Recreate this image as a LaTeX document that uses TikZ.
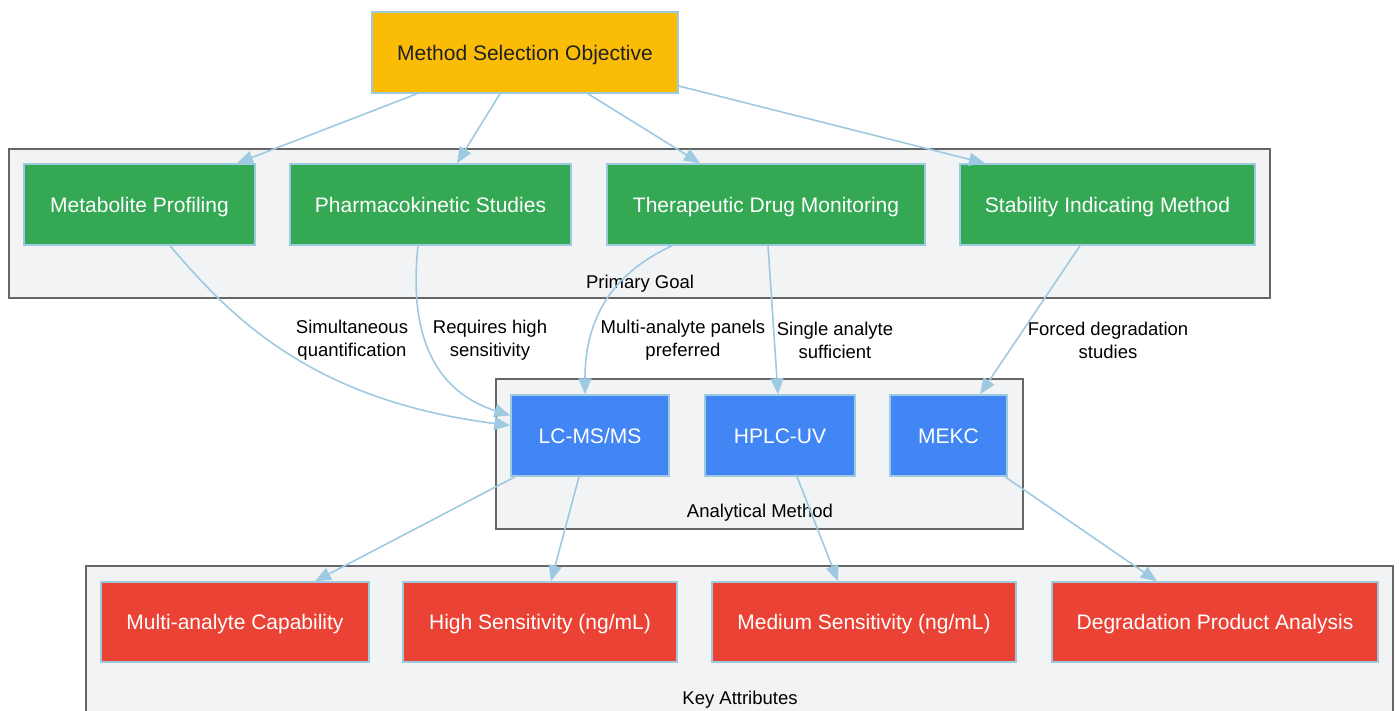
\documentclass[tikz,border=0pt]{standalone}
\usepackage{fontspec}
\setmainfont{Liberation Sans}
\usetikzlibrary{arrows.meta,calc}
\definecolor{edgeblue}{RGB}{158,202,225}
\definecolor{clfill}{RGB}{241,243,244}
\definecolor{cldraw}{RGB}{102,102,102}
\definecolor{gold}{RGB}{251,188,5}
\definecolor{ggreen}{RGB}{52,168,83}
\definecolor{gblue}{RGB}{66,133,244}
\definecolor{gred}{RGB}{234,67,53}
\definecolor{dtext}{RGB}{32,33,36}
\tikzset{
  box/.style={draw=edgeblue, line width=1.5pt, inner sep=0pt, minimum height=81pt,
    text height=18pt, text depth=3pt,
    font=\fontsize{21}{25}\selectfont, text=white},
  objbox/.style={box, fill=gold, text=dtext},
  goalbox/.style={box, fill=ggreen},
  methbox/.style={box, fill=gblue},
  attrbox/.style={box, fill=gred, minimum height=80pt},
  cluster/.style={draw=cldraw, fill=clfill, line width=1.5pt},
  cllabel/.style={font=\fontsize{18.5}{22}\selectfont, text=black, inner sep=0pt},
  elabel/.style={font=\fontsize{18.5}{23}\selectfont, text=black, align=center, inner sep=0pt},
  edge/.style={draw=edgeblue, line width=1.6pt, -{Triangle[length=16pt,width=13pt]}}
}
\begin{document}
\begin{tikzpicture}[x=1pt,y=-1pt]
\useasboundingbox (0,0) rectangle (1399,710);
\clip (0,0) rectangle (1399,710);
% clusters
\draw[cluster] (9,149) rectangle (1270,298);
\node[cllabel] (lgoal) at (640,283.5) {Primary Goal};
\draw[cluster] (496,379) rectangle (1023,529);
\node[cllabel] (lmeth) at (760,513) {Analytical Method};
\draw[cluster] (86,566) rectangle (1393,730);
\node[cllabel] (lattr) at (740,699.5) {Key Attributes};
% nodes
\node[objbox, minimum width=306pt] (obj) at (525,52.5) {Method Selection Objective};
\node[goalbox, minimum width=231pt] (met) at (139.5,204.5) {Metabolite Profiling};
\node[goalbox, minimum width=281pt] (pk) at (430.5,204.5) {Pharmacokinetic Studies};
\node[goalbox, minimum width=318pt] (tdm) at (766,204.5) {Therapeutic Drug Monitoring};
\node[goalbox, minimum width=295pt] (sim) at (1107.5,204.5) {Stability Indicating Method};
\node[methbox, minimum width=158pt] (lcms) at (590,435.5) {LC-MS/MS};
\node[methbox, minimum width=150pt] (hplc) at (780,435.5) {HPLC-UV};
\node[methbox, minimum width=117pt] (mekc) at (948.5,435.5) {MEKC};
\node[attrbox, minimum width=268pt] (multi) at (235,622) {Multi-analyte Capability};
\node[attrbox, minimum width=274pt] (high) at (540,622) {High Sensitivity (ng/mL)};
\node[attrbox, minimum width=304pt] (med) at (864,622) {Medium Sensitivity (ng/mL)};
\node[attrbox, minimum width=326pt] (deg) at (1215,622) {Degradation Product Analysis};
% edges from objective
\draw[edge] ([xshift=-108pt]obj.south) -- ([xshift=97.5pt]met.north);
\draw[edge] ([xshift=-25pt]obj.south) -- ([xshift=26.5pt]pk.north);
\draw[edge] ([xshift=63pt]obj.south) -- ([xshift=-66pt]tdm.north);
\draw[edge] ([yshift=-33.5pt]obj.east) -- ([xshift=-122.5pt]sim.north);
% goal -> method
\draw[edge] ([xshift=30.5pt]met.south) .. controls (230,316) and (310,400) .. ([yshift=10pt]lcms.west);
\draw[edge] ([xshift=-12.5pt]pk.south) .. controls (410,320) and (425,388) .. ([yshift=20pt]lcms.west);
\draw[edge] ([xshift=-94pt]tdm.south) .. controls (620,270) and (585,310) .. ([xshift=-5pt]lcms.north);
\draw[edge] ([xshift=2pt]tdm.south) -- ([xshift=-2pt]hplc.north);
\draw[edge] ([xshift=-27.5pt]sim.south) -- ([xshift=31.5pt]mekc.north);
% edge labels
\node[elabel] (e1) at (352,340) {Simultaneous\\quantification};
\node[elabel] (e2) at (490,340) {Requires high\\sensitivity};
\node[elabel] (e3) at (683,340) {Multi-analyte panels\\preferred};
\node[elabel] (e4) at (835,340) {Single analyte\\sufficient};
\node[elabel] (e5) at (1108,340) {Forced degradation\\studies};
% method -> attributes
\draw[edge] ([xshift=-75pt]lcms.south) -- ([xshift=80pt]multi.north);
\draw[edge] ([xshift=-11pt]lcms.south) -- ([xshift=11pt]high.north);
\draw[edge] ([xshift=17pt]hplc.south) -- ([xshift=-26pt]med.north);
\draw[edge] ([xshift=56.5pt]mekc.south) -- ([xshift=-58pt]deg.north);
\end{tikzpicture}
\end{document}
